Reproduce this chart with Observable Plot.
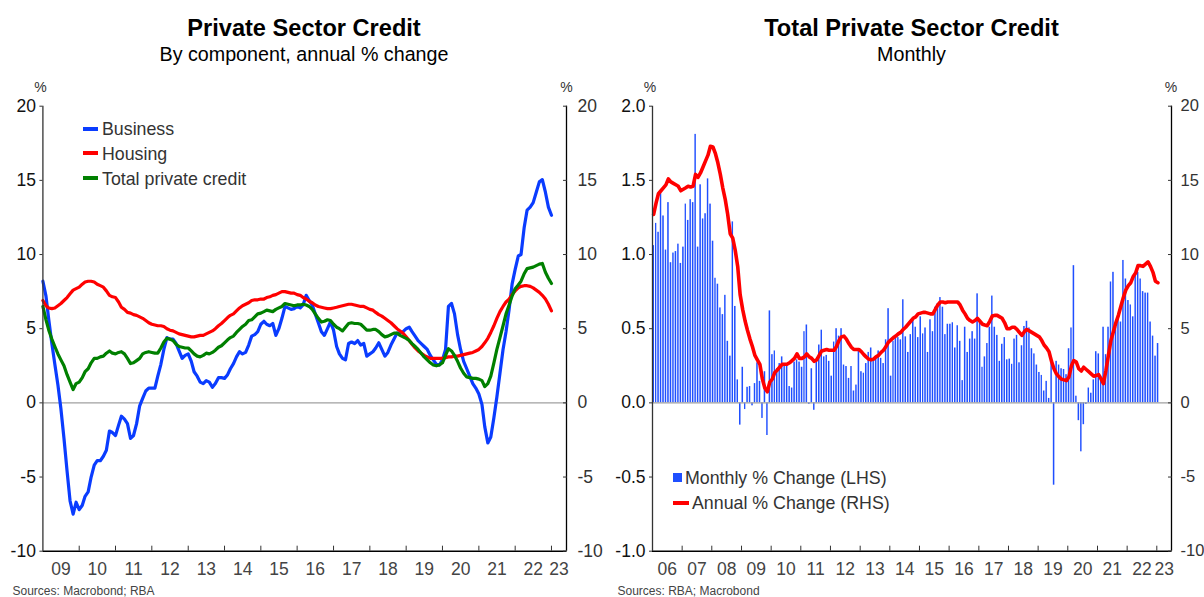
<!DOCTYPE html>
<html>
<head>
<meta charset="utf-8">
<script src="https://cdn.jsdelivr.net/npm/d3@7"></script>
<script src="https://cdn.jsdelivr.net/npm/@observablehq/plot@0.6"></script>
<style>
  html, body { margin: 0; padding: 0; background: #fff; overflow: hidden; }
  body { font-family: "Liberation Sans", Arial, Helvetica, sans-serif; }
  #wrap { position: relative; width: 1204px; height: 597px; overflow: hidden; }
  .panel { position: absolute; top: 0; width: 602px; height: 597px; }
  .panel svg { position: absolute; left: 0; top: 0; }
  .abs { position: absolute; white-space: nowrap; }
  .title { font-weight: bold; font-size: 23.6px; line-height: 28px; text-align: center; color: #000; }
  .subtitle { font-size: 19.7px; line-height: 24px; text-align: center; color: #000; }
  .pct { font-size: 14px; line-height: 16px; width: 20px; text-align: center; color: #333; }
  .leg { font-size: 17.8px; line-height: 20px; color: #333; }
  .src { font-size: 12px; line-height: 10px; color: #444; }
  .sw { position: absolute; }
</style>
</head>
<body>
<div id="wrap">
  <div class="panel" id="left" style="left:0"></div>
  <div class="panel" id="right" style="left:602px"></div>
</div>
<script>
// ---------------- DATA ----------------
// Left panel: annual % change by component, monthly from Jan 2009
const componentStart = "2009-01";
const business = [
  8.2, 7.2, 5.6, 4.0, 2.6, 1.2, -0.4, -2.4, -4.6, -6.6, -7.5, -6.7,
  -7.2, -6.9, -6.3, -6.0, -5.0, -4.2, -3.9, -3.9, -3.6, -3.2, -1.9, -2.0,
  -2.2, -1.5, -0.9, -1.1, -1.4, -2.4, -2.2, -1.4, -0.2, 0.3, 0.8, 1.0,
  1.0, 1.0, 1.8, 2.6, 3.6, 4.4, 4.3, 4.3, 4.0, 3.5, 3.0, 3.2,
  3.3, 2.8, 2.1, 1.8, 1.4, 1.3, 1.5, 1.4, 1.05, 1.3, 1.7, 1.7,
  1.65, 1.9, 2.3, 2.65, 3.1, 3.45, 3.3, 3.4, 3.9, 4.5, 4.6, 4.8,
  5.3, 5.5, 5.3, 5.2, 5.35, 4.55, 5.0, 5.7, 6.5, 6.4, 6.3, 6.35,
  6.5, 6.4, 6.6, 7.25, 6.9, 6.6, 6.0, 5.4, 4.8, 4.55, 5.0, 5.45,
  4.9, 3.8, 3.3, 3.0, 2.9, 4.0, 4.1, 4.0, 4.2, 3.9, 4.0, 3.15,
  3.3, 3.45, 3.7, 4.05, 3.6, 3.15, 3.4, 3.9, 4.3, 4.7, 4.7, 4.8,
  5.0, 5.1, 4.8, 4.5, 4.2, 4.0, 3.8, 3.6, 3.2, 2.9, 2.6, 2.55,
  2.9, 3.6, 6.5, 6.7, 6.0, 4.6, 3.6, 2.8, 2.3, 1.8, 1.3, 1.0,
  0.6, -0.1, -1.6, -2.7, -2.3, -1.0, 0.4, 2.0, 3.6, 4.8, 6.3, 8.0,
  9.0, 9.9, 10.0, 11.8, 13.0, 13.2, 13.5, 14.2, 14.9, 15.05, 14.2, 13.2,
  12.65
];
const housing = [
  6.9, 6.55, 6.4, 6.35, 6.4, 6.55, 6.7, 6.9, 7.1, 7.35, 7.6, 7.7,
  7.8, 8.0, 8.15, 8.2, 8.2, 8.15, 8.0, 7.9, 7.8, 7.55, 7.25, 7.15,
  7.1, 6.8, 6.45, 6.3, 6.1, 6.05, 5.95, 5.9, 5.8, 5.7, 5.55, 5.4,
  5.3, 5.25, 5.2, 5.2, 5.15, 5.0, 4.9, 4.85, 4.75, 4.65, 4.6, 4.55,
  4.5, 4.45, 4.45, 4.5, 4.55, 4.55, 4.65, 4.75, 4.85, 5.0, 5.2, 5.35,
  5.55, 5.75, 5.9, 6.0, 6.2, 6.4, 6.55, 6.65, 6.75, 6.9, 6.95, 6.95,
  7.0, 7.0, 7.1, 7.15, 7.25, 7.3, 7.4, 7.5, 7.5, 7.45, 7.4, 7.4,
  7.3, 7.25, 7.1, 7.0, 6.85, 6.75, 6.6, 6.5, 6.45, 6.4, 6.35, 6.35,
  6.4, 6.45, 6.5, 6.55, 6.6, 6.65, 6.65, 6.6, 6.55, 6.5, 6.5, 6.4,
  6.3, 6.25, 6.1, 5.95, 5.85, 5.7, 5.55, 5.4, 5.2, 5.0, 4.85, 4.7,
  4.45, 4.2, 3.95, 3.7, 3.5, 3.35, 3.2, 3.1, 3.0, 3.0, 3.0, 3.0,
  3.0, 3.05, 3.1, 3.1, 3.15, 3.15, 3.2, 3.25, 3.3, 3.35, 3.4, 3.5,
  3.6, 3.8, 4.05, 4.35, 4.75, 5.2, 5.7, 6.15, 6.5, 6.8, 7.0, 7.3,
  7.55, 7.75, 7.85, 7.9, 7.9, 7.85, 7.75, 7.6, 7.45, 7.25, 7.0, 6.65,
  6.2
];
const totalCredit = [
  6.5, 5.6, 4.9, 4.3, 3.8, 3.3, 2.9, 2.5, 1.9, 1.4, 0.9, 1.3,
  1.4, 1.7, 2.1, 2.3, 2.7, 3.0, 3.0, 3.1, 3.15, 3.35, 3.5, 3.35,
  3.3, 3.4, 3.45, 3.3, 3.0, 2.65, 2.7, 2.85, 3.0, 3.3, 3.4, 3.45,
  3.4, 3.35, 3.35, 3.7, 4.1, 4.35, 4.3, 4.2, 3.95, 3.8, 3.75, 3.7,
  3.7, 3.5, 3.3, 3.15, 3.1, 3.2, 3.35, 3.3, 3.4, 3.55, 3.75, 3.85,
  4.05, 4.25, 4.4, 4.5, 4.75, 4.95, 5.15, 5.3, 5.55, 5.6, 5.8, 6.0,
  6.05, 6.15, 6.25, 6.2, 6.15, 6.3, 6.4, 6.5, 6.7, 6.65, 6.6, 6.55,
  6.6, 6.6, 6.65, 6.6, 6.5, 6.3, 6.0, 5.7, 5.45, 5.5, 5.6, 5.55,
  5.3, 5.1, 5.0, 4.85, 5.1, 5.35, 5.4, 5.35, 5.35, 5.3, 5.1, 4.9,
  4.9, 4.95, 4.95, 4.8, 4.6, 4.45, 4.5, 4.6, 4.7, 4.7, 4.55, 4.45,
  4.35, 4.2, 4.0, 3.8, 3.6, 3.35, 3.1, 2.9, 2.7, 2.55, 2.5, 2.55,
  2.7, 3.2, 3.65, 3.5, 3.2, 2.8, 2.35, 2.0, 1.75, 1.7, 1.65, 1.65,
  1.6, 1.5, 1.1, 1.3, 1.8, 2.7, 3.6, 4.4, 5.2, 6.0, 6.6, 7.2,
  7.7, 7.95, 8.2, 8.7, 9.05, 9.1, 9.15, 9.25, 9.35, 9.4, 8.8, 8.4,
  8.05
];

// Right panel: total private sector credit, monthly from Jan 2006
const totalStart = "2006-01";
const monthlyChange = [   // % (LHS)
  1.06, 1.21, 1.15, 1.41, 1.26, 1.03, 1.35, 0.945, 1.01, 1.02, 1.07, 0.94,
  1.05, 1.34, 1.23, 1.37, 1.35, 1.81, 1.05, 1.47, 1.24, 1.275, 1.51, 1.34,
  1.09, 0.84, 0.80, 0.64, 0.595, 0.725, 0.415, 0.315, 1.22, 0.65, 0.155, -0.15,
  0.24, -0.045, 0.105, 0.11, -0.02, 0.13, 0.27, 0.145, -0.105, 0.21, -0.22, 0.62,
  0.325, 0.35, 0.23, 0.265, 0.31, 0.265, 0.25, 0.11, 0.10, 0.275, 0.29, 0.275,
  0.24, 0.48, 0.525, -0.01, 0.23, -0.05, 0.275, 0.39, 0.49, 0.31, 0.32, 0.28,
  0.18, 0.41, 0.50, 0.45, 0.50, 0.255, 0.245, 0.165, 0.245, 0.08, 0.12, 0.35,
  0.21, 0.20, 0.265, 0.34, 0.37, 0.29, 0.31, 0.35, 0.30, 0.265, 0.425, 0.635,
  0.18, 0.415, 0.44, 0.44, 0.425, 0.695, 0.445, 0.34, 0.46, 0.56, 0.51, 0.44,
  0.58, 0.465, 0.505, 0.34, 0.56, 0.48, 0.645, 0.67, 0.71, 0.645, 0.46, 0.53,
  0.53, 0.54, 0.37, 0.52, 0.415, 0.15, 0.51, 0.34, 0.43, 0.48, 0.43, 0.735,
  0.545, 0.24, 0.31, 0.40, 0.51, 0.72, 0.51, 0.455, 0.28, 0.395, 0.44, 0.29,
  0.295, 0.26, 0.43, 0.455, 0.27, 0.385, 0.515, 0.55, 0.505, 0.365, 0.33, 0.255,
  0.205, 0.185, 0.08, 0.145, 0.03, 0.265, -0.555, 0.28, 0.255, 0.23, 0.225, 0.19,
  0.365, 0.505, 0.925, 0.045, -0.12, -0.33, -0.147, -0.01, 0.10, 0.065, 0.155, 0.345,
  0.33, 0.18, 0.51, 0.325, 0.51, 0.815, 0.88, 0.51, 0.59, 0.545, 0.96, 0.835,
  0.69, 0.66, 0.58, 0.86, 0.88, 0.835, 0.75, 0.74, 0.74, 0.545, 0.45, 0.315,
  0.40
];
const annualChange = [    // % (RHS)
  12.7, 13.5, 14.1, 14.3, 14.5, 14.7, 15.1, 14.9, 14.8, 14.7, 14.6, 14.3,
  14.4, 14.5, 14.6, 14.55, 14.6, 15.4, 15.2, 15.5, 15.9, 16.3, 16.7, 17.3,
  17.25, 16.8, 16.2, 15.4, 14.5, 13.7, 12.7, 11.4, 11.1, 10.3, 9.2, 7.3,
  6.3, 5.5, 4.9, 4.3, 3.8, 3.2, 2.9, 2.6, 1.6, 1.0, 0.75, 1.4,
  1.6, 2.05, 2.2, 2.4, 2.6, 2.6, 2.6, 2.7, 2.85, 3.0, 3.3, 3.0,
  3.0, 3.1, 3.3, 3.1, 3.0, 2.8, 2.9, 3.2, 3.5, 3.55, 3.6, 3.55,
  3.55, 3.55, 3.8, 4.2, 4.45, 4.5, 4.3, 4.0, 3.75, 3.6, 3.6, 3.6,
  3.45, 3.25, 3.1, 2.95, 2.9, 2.95, 3.1, 3.2, 3.4, 3.55, 3.8, 4.1,
  4.25, 4.4, 4.5, 4.65, 4.75, 4.95, 5.1, 5.3, 5.5, 5.7, 5.8, 6.0,
  6.05, 6.1, 6.1, 6.05, 6.0, 6.0, 6.3, 6.6, 6.8, 6.8, 6.75, 6.8,
  6.8, 6.8, 6.8, 6.8, 6.6, 6.25, 6.0, 5.7, 5.55, 5.45, 5.55, 5.7,
  5.5, 5.3, 5.25, 5.2, 5.5, 5.85, 5.9, 5.9, 5.8, 5.7, 5.4, 5.0,
  5.0, 5.1, 5.1, 4.95, 4.75, 4.55, 4.8, 4.95, 4.85, 4.75, 4.65, 4.55,
  4.45, 4.2, 3.9, 3.7, 3.45, 2.8, 2.3, 1.95, 1.75, 1.6, 1.55, 1.5,
  1.75, 2.5, 2.85, 2.75, 2.3, 2.15, 2.4, 2.25, 2.1, 1.95, 1.8, 1.85,
  1.9, 1.6, 1.3, 2.2, 3.2, 4.2, 4.8, 5.4, 5.9, 6.5, 7.1, 7.6,
  7.9, 8.1, 8.5, 8.75, 9.25, 9.25, 9.2, 9.35, 9.5, 9.2, 8.8, 8.2,
  8.1
];

// Axes / tick labels
const leftYTicks = [-10, -5, 0, 5, 10, 15, 20];
const rightLhsTicks = [-1.0, -0.5, 0.0, 0.5, 1.0, 1.5, 2.0];
const rhsPerLhs = 10; // RHS axis (-10..20) vs LHS axis (-1.0..2.0)
const leftYears = [2009, 2010, 2011, 2012, 2013, 2014, 2015, 2016, 2017, 2018, 2019, 2020, 2021, 2022, 2023];
const rightYears = [2006, 2007, 2008, 2009, 2010, 2011, 2012, 2013, 2014, 2015, 2016, 2017, 2018, 2019, 2020, 2021, 2022, 2023];
const leftDomain = [new Date(Date.UTC(2009, 0, 1)), new Date(Date.UTC(2023, 5, 1))];
const rightDomain = [new Date(Date.UTC(2006, 0, 1)), new Date(Date.UTC(2023, 6, 1))];

// ---------------- STYLE ----------------
const FONT = '"Liberation Sans", Arial, Helvetica, sans-serif';
const BLUE = "#0a3cff";
const BAR = "#1f4fff";
const RED = "#ff0000";
const GREEN = "#008000";

// ---------------- HELPERS ----------------
const parseMonth = d3.utcParse("%Y-%m");
function monthly(start, values, dayOffset) {
  const s = parseMonth(start);
  return values.map((v, i) => ({date: d3.utcDay.offset(d3.utcMonth.offset(s, i), dayOffset), v}));
}
function yearTicks(years, domain) {
  const starts = years.slice(1).map(y => new Date(Date.UTC(y, 0, 1)));
  const mids = years.map(y => {
    const a = +new Date(Date.UTC(y, 0, 1));
    const b = Math.min(+new Date(Date.UTC(y + 1, 0, 1)), +domain[1]);
    return new Date((a + b) / 2);
  });
  return {starts, mids};
}
const fmtYY = d3.utcFormat("%y");

// ---------------- LEFT PANEL ----------------
const bData = monthly(componentStart, business, 0);
const hData = monthly(componentStart, housing, 0);
const tData = monthly(componentStart, totalCredit, 0);
const lYT = yearTicks(leftYears, leftDomain);

const leftPlot = Plot.plot({
  width: 602, height: 597,
  marginTop: 105.7, marginBottom: 46.3, marginLeft: 42.4, marginRight: 36,
  style: {fontFamily: FONT, fontSize: "17.5px", color: "#222", background: "none", overflow: "visible"},
  x: {type: "utc", domain: leftDomain},
  y: {domain: [-10, 20]},
  marks: [
    Plot.ruleY([0], {stroke: "#a0a0a0", strokeWidth: 1.2}),
    Plot.lineY(bData, {x: "date", y: "v", stroke: BLUE, strokeWidth: 3.2}),
    Plot.lineY(hData, {x: "date", y: "v", stroke: RED, strokeWidth: 3.2}),
    Plot.lineY(tData, {x: "date", y: "v", stroke: GREEN, strokeWidth: 3.2}),
    Plot.ruleX([leftDomain[0]], {stroke: "#333", strokeWidth: 1.3}),
    Plot.ruleX([leftDomain[1]], {stroke: "#000", strokeWidth: 1.3}),
    Plot.ruleY([-10], {stroke: "#000", strokeWidth: 1.6}),
    Plot.axisY({anchor: "left", ticks: leftYTicks, tickSize: 3, tickPadding: 4, tickFormat: d => String(d), label: null, fill: "#111", stroke: "#333"}),
    Plot.axisY({anchor: "right", ticks: leftYTicks, tickSize: 4, dx: -4, tickFormat: () => "", label: null, stroke: "#333"}),
    Plot.axisY({anchor: "right", ticks: leftYTicks, tickSize: 0, tickPadding: 11, tickFormat: d => String(d), label: null, fill: "#333"}),
    Plot.axisX({ticks: lYT.starts, tickSize: 5, dy: -5, tickFormat: () => "", label: null, stroke: "#333"}),
    Plot.axisX({ticks: lYT.mids, tickSize: 0, tickPadding: 11, tickFormat: fmtYY, label: null, fill: "#444"})
  ]
});

// ---------------- RIGHT PANEL ----------------
const mData = monthly(totalStart, monthlyChange, 0);
const aData = monthly(totalStart, annualChange, 14);
const rYT = yearTicks(rightYears, rightDomain);

const rightPlot = Plot.plot({
  width: 602, height: 597,
  marginTop: 105.7, marginBottom: 46.3, marginLeft: 50, marginRight: 33,
  style: {fontFamily: FONT, fontSize: "17.5px", color: "#222", background: "none", overflow: "visible"},
  x: {type: "utc", domain: rightDomain},
  y: {domain: [-1, 2]},
  marks: [
    Plot.rectY(mData, {x: "date", y: "v", interval: d3.utcMonth, fill: BAR, insetLeft: 0.5, insetRight: 0.5}),
    Plot.ruleY([0], {stroke: "#a0a0a0", strokeWidth: 1.2}),
    Plot.lineY(aData, {x: "date", y: d => d.v / rhsPerLhs, stroke: RED, strokeWidth: 3.6}),
    Plot.ruleX([rightDomain[0]], {stroke: "#333", strokeWidth: 1.3}),
    Plot.ruleX([rightDomain[1]], {stroke: "#000", strokeWidth: 1.3}),
    Plot.ruleY([-1], {stroke: "#000", strokeWidth: 1.6}),
    Plot.axisY({anchor: "left", ticks: rightLhsTicks, tickSize: 3, tickPadding: 4, tickFormat: d => d.toFixed(1), label: null, fill: "#111", stroke: "#333"}),
    Plot.axisY({anchor: "right", ticks: rightLhsTicks, tickSize: 4, dx: -4, tickFormat: () => "", label: null, stroke: "#333"}),
    Plot.axisY({anchor: "right", ticks: rightLhsTicks, tickSize: 0, tickPadding: 9, fontSize: 16.5, tickFormat: d => String(Math.round(d * rhsPerLhs)), label: null, fill: "#333"}),
    Plot.axisX({ticks: rYT.starts, tickSize: 5, dy: -5, tickFormat: () => "", label: null, stroke: "#333"}),
    Plot.axisX({ticks: rYT.mids, tickSize: 0, tickPadding: 11, tickFormat: fmtYY, label: null, fill: "#444"})
  ]
});

// ---------------- ASSEMBLE ----------------
function add(parent, cls, text, style) {
  const el = document.createElement("div");
  el.className = "abs " + cls;
  if (text != null) el.textContent = text;
  Object.assign(el.style, style);
  parent.appendChild(el);
  return el;
}
const L = document.getElementById("left");
const R = document.getElementById("right");
L.appendChild(leftPlot);
R.appendChild(rightPlot);

// Left texts
add(L, "title", "Private Sector Credit", {left: "0px", width: "608px", top: "14px"});
add(L, "subtitle", "By component, annual % change", {left: "0px", width: "608px", top: "41.5px"});
add(L, "pct", "%", {left: "30.5px", top: "79px"});
add(L, "pct", "%", {left: "556.5px", top: "79px"});
add(L, "src", "Sources: Macrobond; RBA", {left: "12.5px", top: "586px"});
const leftLegend = [["Business", BLUE, 128.5], ["Housing", RED, 153], ["Total private credit", GREEN, 178]];
for (const [name, color, cy] of leftLegend) {
  add(L, "sw", null, {left: "83px", width: "15px", height: "4px", top: (cy - 2) + "px", background: color});
  add(L, "leg", name, {left: "102px", top: (cy - 9.5) + "px"});
}

// Right texts (panel offset 602)
add(R, "title", "Total Private Sector Credit", {left: "0px", width: "619px", top: "14px"});
add(R, "subtitle", "Monthly", {left: "0px", width: "619px", top: "41.5px"});
add(R, "pct", "%", {left: "38px", top: "79px"});
add(R, "pct", "%", {left: "559px", top: "79px"});
add(R, "src", "Sources: RBA; Macrobond", {left: "15.5px", top: "586px"});
add(R, "sw", null, {left: "71px", width: "9px", height: "9px", top: "472.5px", background: BAR});
add(R, "leg", "Monthly % Change (LHS)", {left: "83px", top: (477.5 - 9.5) + "px"});
add(R, "sw", null, {left: "71px", width: "16px", height: "4px", top: "500.5px", background: RED});
add(R, "leg", "Annual % Change (RHS)", {left: "90px", top: (502.5 - 9.5) + "px"});
</script>
</body>
</html>
